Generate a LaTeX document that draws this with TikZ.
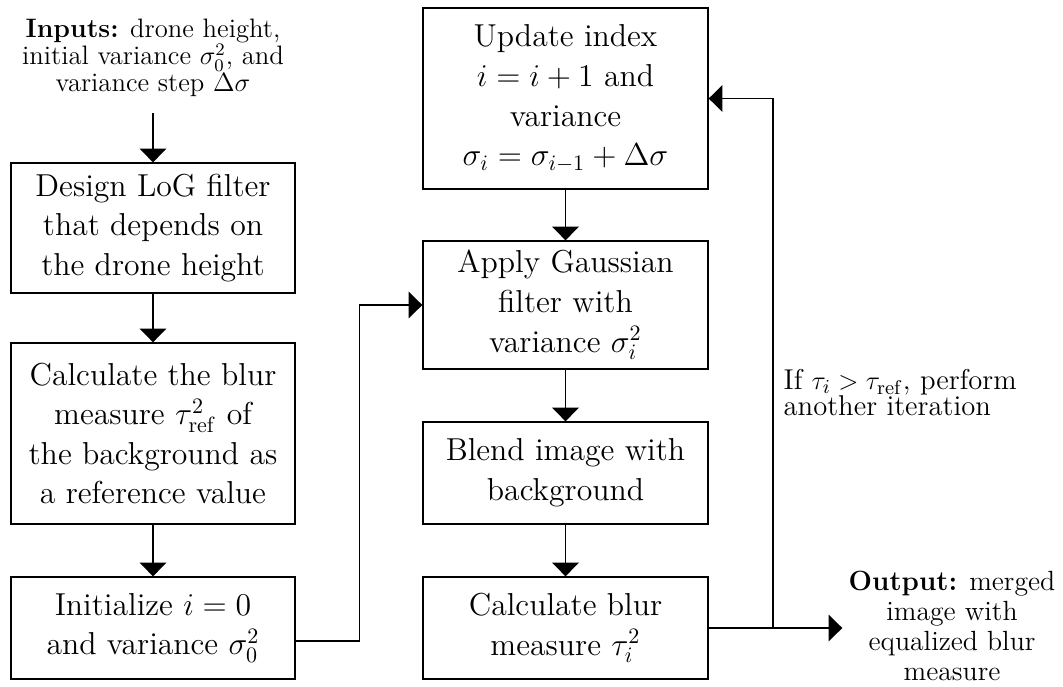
\documentclass[tikz,border=0pt]{standalone}
\usetikzlibrary{arrows.meta,positioning,calc}
\begin{document}
\begin{tikzpicture}[x=0.454pt, y=-0.454pt,
  line width=0.6pt,
  box/.style={draw, rectangle, align=center, inner sep=2pt, font=\Large},
  colL/.style={minimum width=128.9pt},
  colM/.style={minimum width=129.4pt},
  plain/.style={align=center, inner sep=0pt},
  arr/.style={-{Triangle[width=12pt,length=6.2pt]}}
]
\useasboundingbox (0,0) rectangle (1063,686);

% inputs / outputs
\node[plain, font=\fontsize{12.1}{12.2}\selectfont] (inputs) at (153,58)
  {\textbf{Inputs:} drone height,\\ initial variance $\sigma_0^2$, and\\ variance step $\Delta\sigma$};
\node[plain, font=\fontsize{12.6}{13.5}\selectfont] (output) at (952,626)
  {\textbf{Output:} merged\\ image with\\ equalized blur\\ measure};
\node[plain, align=left, anchor=north west, font=\fontsize{13}{11.6}\selectfont] (iftext) at (783,369)
  {If $\tau_i > \tau_{\mathrm{ref}}$, perform\\ another iteration};

% left column
\node[box, colL, minimum height=59.0pt] (design) at (153,228)
  {Design LoG filter\\ that depends on\\ the drone height};
\node[box, colL, minimum height=82.2pt] (calcref) at (153,433.5)
  {Calculate the blur\\ measure $\tau_{\mathrm{ref}}^2$ of\\ the background as\\ a reference value};
\node[box, colL, minimum height=46.3pt] (init) at (153,628)
  {Initialize $i=0$\\ and variance $\sigma_0^2$};

% middle column
\node[box, colM, minimum height=82.2pt] (update) at (565.5,98.5)
  {Update index\\ $i=i+1$ and\\ variance\\ $\sigma_i=\sigma_{i-1}+\Delta\sigma$};
\node[box, colM, minimum height=58.1pt] (apply) at (565.5,305)
  {Apply Gaussian\\ filter with\\ variance $\sigma_i^2$};
\node[box, colM, minimum height=46.3pt] (blend) at (565.5,473)
  {Blend image with\\ background};
\node[box, colM, minimum height=46.3pt] (calcblur) at (565.5,628)
  {Calculate blur\\ measure $\tau_i^2$};

% connectors
\draw[arr] ([yshift=-7.3pt]inputs.south) -- (design.north);
\draw[arr] (design) -- (calcref);
\draw[arr] (calcref) -- (init);
\draw[arr] ([yshift=-5.9pt]init.east) -- ++(64,0) |- (apply.west);
\draw[arr] (update) -- (apply);
\draw[arr] (apply) -- (blend);
\draw[arr] (blend) -- (calcblur);
\draw[arr] (calcblur.east) -- ([xshift=-2.6pt]calcblur.east -| output.west);
\coordinate (split) at (773,628);
\draw[arr] (split) |- (update.east);
\end{tikzpicture}
\end{document}
